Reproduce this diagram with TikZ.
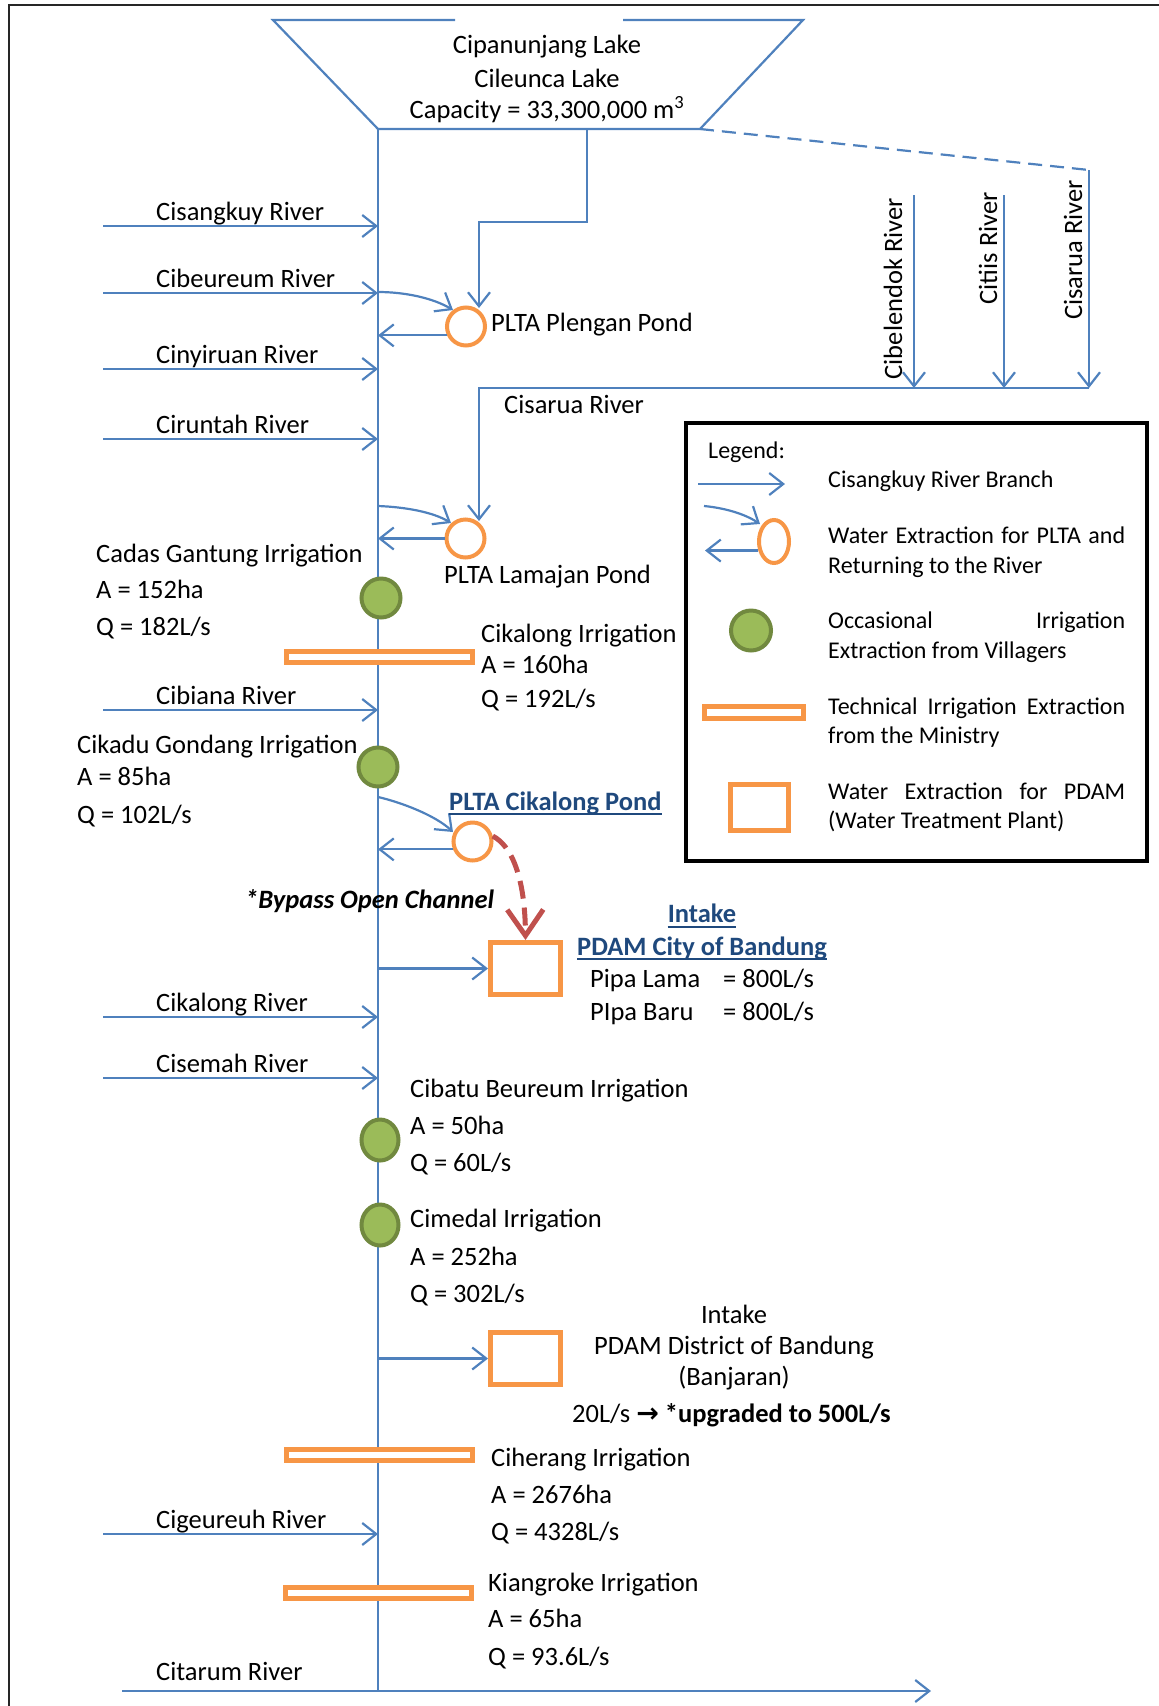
\documentclass[tikz,border=0pt]{standalone}
\usepackage{fontspec}
\setmainfont{Carlito}
\newfontfamily\dejavu{DejaVu Sans}
\usetikzlibrary{arrows.meta,calc,shapes.geometric}
\definecolor{rb}{HTML}{4F81BD}
\definecolor{og}{HTML}{F79646}
\definecolor{gf}{HTML}{9BBB59}
\definecolor{gd}{HTML}{71893F}
\definecolor{rd}{HTML}{C0504D}
\definecolor{db}{HTML}{1F497D}
\begin{document}
\begin{tikzpicture}[x=1pt,y=-1pt,
 bline/.style={draw=rb,line width=2.2pt},
 arr/.style={bline,-{Straight Barb[length=14pt,width=22pt]}},
 pond/.style={circle,draw=og,line width=4pt,fill=white,minimum size=38pt,inner sep=0pt},
 irr/.style={circle,draw=gd,line width=4pt,fill=gf,minimum size=39pt,inner sep=0pt},
 irre/.style={ellipse,draw=gd,line width=4pt,fill=gf,minimum width=37pt,minimum height=41pt,inner sep=0pt},
 tbar/.style={rectangle,draw=og,line width=5pt,fill=white,minimum width=186pt,minimum height=11pt,inner sep=0pt},
 pbox/.style={rectangle,draw=og,line width=5pt,fill=white,minimum width=70pt,minimum height=52pt,inner sep=0pt},
 tx/.style={inner sep=0pt,anchor=base west,font=\fontsize{26.5}{32}\selectfont},
 bt/.style={tx,font=\fontsize{26.5}{32}\selectfont\bfseries,text=db},
 lt/.style={inner sep=0pt,anchor=base west,font=\fontsize{24}{29}\selectfont},
 uline/.style={draw=db,line width=2pt},
]
\useasboundingbox (0,0) rectangle (1159,1706);
% frame
\coordinate (f1) at (1159,5); \coordinate (f2) at (9,5); \coordinate (f3) at (9,1706);
\draw[line width=2.2pt,black!85] (f1) -- (f2) -- (f3);
% lake
\coordinate (lkg1) at (455,20); \coordinate (lktl) at (273,20); \coordinate (lkbl) at (378,129);
\coordinate (lkbr) at (700,129); \coordinate (lktr) at (803,20); \coordinate (lkg2) at (623,20);
\draw[bline] (lkg1) -- (lktl) -- (lkbl) -- (lkbr) -- (lktr) -- (lkg2);
\node[tx,anchor=base] (lk1) at (547,53) {Cipanunjang Lake};
\node[tx,anchor=base] (lk2) at (547,87) {Cileunca Lake};
\node[tx,anchor=base] (lk3) at (547,118) {Capacity = 33,300,000 m\textsuperscript{3}};
% main river
\coordinate (mend) at (378,1691);
\draw[bline] (lkbl) -- (mend);
% feed to Plengan
\coordinate (s1) at (587,129); \coordinate (s2) at (587,222); \coordinate (s3) at (479,222); \coordinate (s4) at (479,308);
\draw[arr] (s1) -- (s2) -- (s3) -- (s4);
% dashed branch and right rivers
\coordinate (d1) at (1089,170); \coordinate (d2) at (1089,388); \coordinate (c2) at (479,388); \coordinate (c3) at (479,521);
\draw[bline,dash pattern=on 14pt off 8pt] (lkbr) -- (d1);
\draw[arr] (d1) -- (d2);
\coordinate (cb1) at (914,195); \coordinate (cb2) at (914,388);
\coordinate (ct1) at (1004,195); \coordinate (ct2) at (1004,388);
\draw[arr] (cb1) -- (cb2);
\draw[arr] (ct1) -- (ct2);
\draw[arr] (d2) -- (c2) -- (c3);
\node[tx,rotate=90,anchor=base east] (cblt) at (902,198) {Cibelendok River};
\node[tx,rotate=90,anchor=base east] (ctit) at (997,192) {Citiis River};
\node[tx,rotate=90,anchor=base east] (csrv) at (1082,180) {Cisarua River};
\node[tx] (csrt) at (504,413) {Cisarua River};
% left rivers
\foreach \nm/\yy/\lab in {r1/226/Cisangkuy River,r2/293/Cibeureum River,r3/369/Cinyiruan River,r4/439/Ciruntah River,r5/710/Cibiana River,r6/1017/Cikalong River,r7/1078/Cisemah River,r8/1534/Cigeureuh River}{
  \coordinate (\nm a) at (103,\yy);
  \coordinate (\nm b) at (378,\yy);
  \draw[arr] (\nm a) -- (\nm b);
  \node[tx] (\nm t) at (156,\yy-5.5) {\lab};
}
% Citarum
\coordinate (cta) at (122,1691); \coordinate (ctb) at (931,1691);
\draw[arr] (cta) -- (ctb);
\node[tx] (ctat) at (156,1680) {Citarum River};
% Plengan
\node[pond] (plg) at (466,326.5) {};
\coordinate (plga) at (378,292); \coordinate (plgb) at (453,310);
\draw[arr] (plga) .. controls (405,292) and (433,298) .. (plgb);
\draw[arr] (plg.205) -- (plg.205 -| lkbl);
\node[tx] (plgt) at (491,331) {PLTA Plengan Pond};
% Lamajan
\node[pond] (lmj) at (465.5,538.5) {};
\coordinate (lmja) at (378,506); \coordinate (lmjb) at (451,523);
\draw[arr] (lmja) .. controls (405,507) and (433,512) .. (lmjb);
\draw[arr] (lmj.west) -- (lmj.west -| lkbl);
\node[tx] (lmjt) at (444,583) {PLTA Lamajan Pond};
% Cadas Gantung
\node[irr] (cdg) at (381,598) {};
\node[tx] (cdg1) at (96,562) {Cadas Gantung Irrigation};
\node[tx] (cdg2) at (96,598) {A = 152ha};
\node[tx] (cdg3) at (96,635) {Q = 182L/s};
% Cikalong irrigation
\node[tbar] (ckb) at (379,656.5) {};
\node[tx] (ckb1) at (481,642) {Cikalong Irrigation};
\node[tx] (ckb2) at (481,673) {A = 160ha};
\node[tx] (ckb3) at (481,707) {Q = 192L/s};
% Cikadu Gondang
\node[irr] (ckd) at (378,767) {};
\node[tx] (ckd1) at (77,753) {Cikadu Gondang Irrigation};
\node[tx] (ckd2) at (77,785) {A = 85ha};
\node[tx] (ckd3) at (77,823) {Q = 102L/s};
% Cikalong pond
\node[pond] (ckp) at (472.5,841.5) {};
\coordinate (ckpa) at (378,797); \coordinate (ckpb) at (453,832);
\draw[arr] (ckpa) .. controls (400,802) and (435,815) .. (ckpb);
\draw[arr] (ckp.202) -- (ckp.202 -| lkbl);
\node[bt] (ckpt) at (449,810) {PLTA Cikalong Pond};
\draw[uline] ($(ckpt.base west)+(0,3.5)$) -- ($(ckpt.base east)+(0,3.5)$);
% PDAM city
\node[pbox] (pdc) at (525.5,968.5) {};
\draw[arr] (pdc.west -| lkbl) -- (pdc.west);
\draw[rd,line width=5pt,dash pattern=on 18pt off 9pt,-{Straight Barb[length=26pt,width=36pt]}] (ckp.15) .. controls (512,846) and (525,878) .. (pdc.north);
\node[tx,font=\fontsize{26.5}{32}\selectfont\bfseries\itshape] (byp) at (245,908) {*Bypass Open Channel};
\node[bt,anchor=base] (int1) at (702,922) {Intake};
\draw[uline] ($(int1.base west)+(0,4.5)$) -- ($(int1.base east)+(0,4.5)$);
\node[bt] (pdc1) at (577,955) {PDAM City of Bandung};
\draw[uline] ($(pdc1.base west)+(0,4)$) -- ($(pdc1.base east)+(0,4)$);
\node[tx] (pl1) at (590,987) {Pipa Lama};
\node[tx] (pl2) at (723,987) {= 800L/s};
\node[tx] (pb1) at (590,1020) {PIpa Baru};
\node[tx] (pb2) at (723,1020) {= 800L/s};
% Cibatu Beureum
\node[irre] (cbt) at (380,1140) {};
\node[tx] (cbt1) at (410,1097) {Cibatu Beureum Irrigation};
\node[tx] (cbt2) at (410,1134) {A = 50ha};
\node[tx] (cbt3) at (410,1171) {Q = 60L/s};
% Cimedal
\node[irre] (cmd) at (380,1225) {};
\node[tx] (cmd1) at (410,1227) {Cimedal Irrigation};
\node[tx] (cmd2) at (410,1265) {A = 252ha};
\node[tx] (cmd3) at (410,1302) {Q = 302L/s};
% PDAM district
\node[pbox] (pdd) at (525.5,1358.5) {};
\draw[arr] (pdd.west -| lkbl) -- (pdd.west);
\node[tx,anchor=base] (int2) at (734,1323) {Intake};
\node[tx,anchor=base] (pdd1) at (734,1354) {PDAM District of Bandung};
\node[tx,anchor=base] (pdd2) at (734,1385) {(Banjaran)};
\node[tx] (upg) at (572,1422) {20L/s {\dejavu\bfseries\fontsize{27}{30}\selectfont →} \textbf{*upgraded to 500L/s}};
% Ciherang
\node[tbar] (chb) at (379,1455) {};
\node[tx] (chr1) at (491,1466) {Ciherang Irrigation};
\node[tx] (chr2) at (491,1503) {A = 2676ha};
\node[tx] (chr3) at (491,1540) {Q = 4328L/s};
% Kiangroke
\node[tbar] (kgb) at (378,1592.5) {};
\node[tx] (kgr1) at (488,1591) {Kiangroke Irrigation};
\node[tx] (kgr2) at (488,1627) {A = 65ha};
\node[tx] (kgr3) at (488,1665) {Q = 93.6L/s};
% legend
\node[draw=black,line width=4pt,minimum width=461pt,minimum height=438pt,inner sep=0pt] (leg) at (916.5,642) {};
\node[lt] (lg0) at (708,458) {Legend:};
\coordinate (la1) at (698,484); \coordinate (la2) at (785,484);
\draw[arr] (la1) -- (la2);
\node[lt] (lg1) at (828,487) {Cisangkuy River Branch};
\node[pond,ellipse,minimum width=30pt,minimum height=43pt] (lgp) at (774,541.5) {};
\coordinate (lc1) at (704,506); \coordinate (lc2) at (760,524);
\draw[arr] (lc1) .. controls (725,508) and (745,514) .. (lc2);
\coordinate (lr2) at (705,552);
\draw[arr] (lgp.210) -- (lgp.210 -| lr2);
\node[lt] (lg2a) at (828,543) {\makebox[297pt][s]{Water Extraction for PLTA and}};
\node[lt] (lg2b) at (828,573) {Returning to the River};
\node[irr,minimum size=40pt] (lgg) at (751,630.5) {};
\node[lt] (lg3a) at (828,628) {\makebox[297pt][s]{Occasional Irrigation}};
\node[lt] (lg3b) at (828,658) {Extraction from Villagers};
\node[tbar,minimum width=99pt,minimum height=12pt] (lgb) at (754,712.5) {};
\node[lt] (lg4a) at (828,714) {\makebox[297pt][s]{Technical Irrigation Extraction}};
\node[lt] (lg4b) at (828,743) {from the Ministry};
\node[pbox,minimum width=58pt,minimum height=46pt] (lgq) at (759.5,807.5) {};
\node[lt] (lg5a) at (828,799) {\makebox[297pt][s]{Water Extraction for PDAM}};
\node[lt] (lg5b) at (828,828) {(Water Treatment Plant)};
\end{tikzpicture}
\end{document}
